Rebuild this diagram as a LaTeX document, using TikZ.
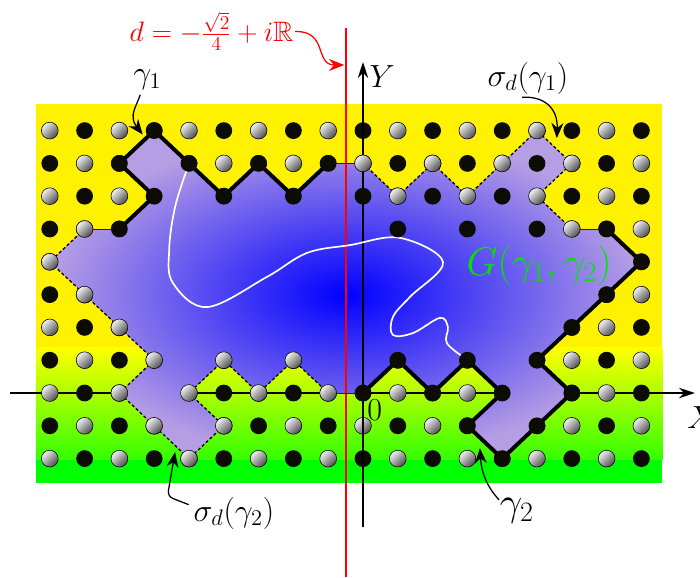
\documentclass[tikz,border=0pt]{standalone}
\usepackage{fix-cm}
\usepackage{amssymb}
\usetikzlibrary{arrows.meta}
\definecolor{lavender}{RGB}{182,158,228}
\definecolor{dotblack}{RGB}{12,12,4}
\newcommand{\latdot}[2]{%
  \ifodd\numexpr#1+#2+20\relax
    \path[greydot] (#1,#2) circle (0.21cm);
  \else
    \path[blackdot] (#1,#2) circle (0.21cm);
  \fi}
\newcommand{\gammaone}{(-7,5) -- (-6,6) -- (-7,7) -- (-6,8) -- (-5,7) -- (-4,6) -- (-3,7) -- (-2,6) -- (-1,7)}
\newcommand{\gammatwo}{(7,5) -- (8,4) -- (7,3) -- (6,2) -- (5,1) -- (6,0) -- (5,-1) -- (4,-2) -- (3,-1) -- (4,0) -- (3,1) -- (2,0) -- (1,1) -- (0,0)}
\begin{document}
\begin{tikzpicture}[x=0.87cm,y=0.82cm,
    blackdot/.style={fill=dotblack},
    greydot/.style={draw=black,line width=0.4pt,top color=gray!10,bottom color=black!70,shading angle=45},
    gammapath/.style={line width=2.8pt,line join=round},
    sigmapath/.style={line width=0.9pt,dash pattern=on 2.2pt off 1.6pt},
    joinpath/.style={line width=0.6pt,red!45!black},
    axisline/.style={line width=1.1pt,-{Stealth[length=4mm,width=2.6mm]}},
    pointer/.style={line width=0.9pt,-{Stealth[length=3.8mm,width=3mm]}},
    lbl/.style={font=\fontsize{22.8}{27}\selectfont}]
    \useasboundingbox (-10.431,-5.610) rectangle (9.684,11.982);
    \fill[yellow] (-9.4,1.38) rectangle (8.6,8.8);
    \shade[top color=yellow,bottom color=green!80!yellow] (-9.4,-2.05) rectangle (8.6,1.4);
    \fill[green] (-9.4,-2.75) rectangle (8.6,-2.04);
    \draw[axisline] (-10.14,0) -- (9.54,0);
    \foreach \i in {-9,...,8}
      \foreach \j in {-2,...,8}
        {\latdot{\i}{\j}}
    \shade[inner color=blue,outer color=lavender] (-7,5) -- (-6,6) -- (-7,7) -- (-6,8) -- (-5,7) -- (-4,6) -- (-3,7) -- (-2,6) -- (-1,7)
      -- (0,7) -- (1,6) -- (2,7) -- (3,6) -- (4,7) -- (5,8) -- (6,7) -- (5,6) -- (6,5)
      -- (7,5) -- (8,4) -- (7,3) -- (6,2) -- (5,1) -- (6,0) -- (5,-1) -- (4,-2) -- (3,-1) -- (4,0) -- (3,1) -- (2,0) -- (1,1) -- (0,0)
      -- (-1,0) -- (-2,1) -- (-3,0) -- (-4,1) -- (-5,0) -- (-4,-1) -- (-5,-2) -- (-6,-1) -- (-7,0) -- (-6,1) -- (-7,2) -- (-8,3) -- (-9,4) -- (-8,5) -- cycle;
    \draw[axisline] (0,-4.09) -- (0,10.09);
    \draw[red,line width=1.3pt] (-0.5,-5.61) -- (-0.5,11.13);
    \draw[joinpath] (-1,7) -- (0,7);
    \draw[joinpath] (6,5) -- (7,5);
    \draw[joinpath] (0,0) -- (-1,0);
    \draw[joinpath] (-8,5) -- (-7,5);
    \draw[gammapath] \gammaone;
    \draw[gammapath] \gammatwo;
    \begin{scope}[xshift=-0.87cm,xscale=-1]
      \draw[sigmapath] \gammaone;
      \draw[sigmapath] \gammatwo;
    \end{scope}
    \draw[white,line width=1.2pt] plot[smooth,tension=0.6] coordinates {(-5.03,6.9) (-5.40,5.67) (-5.57,4.36) (-5.46,3.35) (-4.48,2.62) (-2.76,3.54) (-1.61,4.27) (-0.37,4.51) (1.06,4.73) (2.30,3.99) (1.35,2.93) (0.86,2.32) (0.86,1.77) (1.44,1.83) (2.21,2.29) (2.44,2.01) (2.41,1.52) (2.95,1.05)};
    \foreach \a/\b in {-7/5,-6/6,-7/7,-6/8,-5/7,-4/6,-3/7,-2/6,-1/7,0/7,1/6,2/7,3/6,4/7,5/8,6/7,5/6,6/5,
        7/5,8/4,7/3,6/2,5/1,6/0,5/-1,4/-2,3/-1,4/0,3/1,2/0,1/1,0/0,
        -1/0,-2/1,-3/0,-4/1,-5/0,-4/-1,-5/-2,-6/-1,-7/0,-6/1,-7/2,-8/3,-9/4,-8/5,
        0/6,2/6,4/6,1/5,3/5,5/5,5/7}
      {\latdot{\a}{\b}}
    \node[lbl,red,inner sep=1pt,font=\fontsize{20}{24}\selectfont] (dline) at (-4.35,11.02) {$d=-\frac{\sqrt{2}}{4}+i\mathbb{R}$};
    \coordinate (dtip) at (-0.54,10.0);
    \draw[pointer,red] (dline.east) .. controls (-1.0,11.05) and (-1.4,10.0) .. (dtip);
    \node[lbl] (xlbl) at (9.18,-0.76) [anchor=west] {$X$};
    \node[lbl] (ylbl) at (0.55,9.66) {$Y$};
    \node[lbl] (zero) at (0.34,-0.52) {$0$};
    \node[lbl] (gonelbl) at (-6.2,9.55) {$\gamma_1$};
    \coordinate (gonetip) at (-6.33,7.88);
    \draw[pointer] ([xshift=-5pt]gonelbl.south) .. controls (-6.5,8.75) and (-6.75,8.45) .. (gonetip);
    \node[lbl] (sgonelbl) at (4.74,9.6) {$\sigma_d(\gamma_1)$};
    \coordinate (sgonetip) at (5.57,7.77);
    \draw[pointer] (4.57,9.02) .. controls (5.3,9.05) and (5.6,8.6) .. (sgonetip);
    \node[lbl,green!90!black,font=\fontsize{28.5}{34}\selectfont] (glbl) at (5.06,3.9) {$G(\gamma_1,\gamma_2)$};
    \node[lbl] (sgtwolbl) at (-3.71,-3.66) {$\sigma_d(\gamma_2)$};
    \coordinate (sgtwotip) at (-5.40,-1.80);
    \draw[pointer,rounded corners=4pt] ([yshift=6pt]sgtwolbl.west) -- (-5.62,-3.15) -- (sgtwotip);
    \node[lbl,font=\fontsize{28.5}{34}\selectfont] (gtwolbl) at (4.42,-3.6) {$\gamma_2$};
    \coordinate (gtwotip) at (3.36,-1.68);
    \draw[pointer] ([yshift=8pt,xshift=3pt]gtwolbl.west) .. controls (3.55,-2.85) and (3.4,-2.4) .. (gtwotip);
\end{tikzpicture}
\end{document}
